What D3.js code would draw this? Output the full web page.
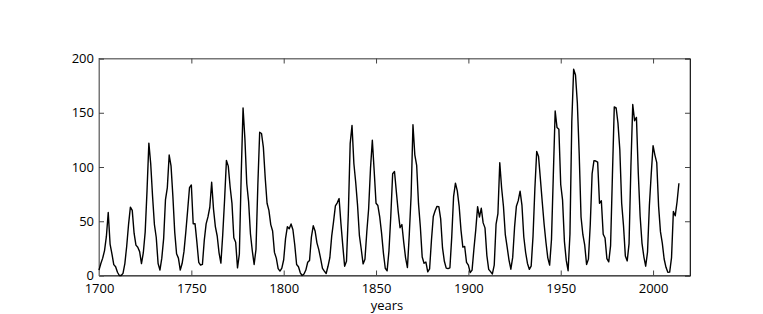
<!DOCTYPE html>
<html>
<head>
<meta charset="utf-8">
<script src="https://cdn.jsdelivr.net/npm/d3@7"></script>
<style>
  body { margin: 0; background: #fff; }
  text { font-family: "Open Sans", sans-serif; }
</style>
</head>
<body>
<div id="chart"></div>
<script>
// yearly mean sunspot numbers
var startYear = 1700;
var sunspots = [
  5, 11, 16, 23, 36, 58, 29, 20, 10, 8,
  3, 0, 0, 2, 11, 27, 47, 63, 60, 39,
  28, 26, 22, 11, 21, 40, 78, 122, 103, 73,
  47, 35, 11, 5, 16, 34, 70, 81, 111, 101,
  73, 40, 20, 16, 5, 11, 22, 40, 60, 80.9,
  83.4, 47.7, 47.8, 30.7, 12.2, 9.6, 10.2, 32.4, 47.6, 54.0,
  62.9, 85.9, 61.2, 45.1, 36.4, 20.9, 11.4, 37.8, 69.8, 106.1,
  100.8, 81.6, 66.5, 34.8, 30.6, 7.0, 19.8, 92.5, 154.4, 125.9,
  84.8, 68.1, 38.5, 22.8, 10.2, 24.1, 82.9, 132.0, 130.9, 118.1,
  89.9, 66.6, 60.0, 46.9, 41.0, 21.3, 16.0, 6.4, 4.1, 6.8,
  14.5, 34.0, 45.0, 43.1, 47.5, 42.2, 28.1, 10.1, 8.1, 2.5,
  0.0, 1.4, 5.0, 12.2, 13.9, 35.4, 45.8, 41.1, 30.1, 23.9,
  15.6, 6.6, 4.0, 1.8, 8.5, 16.6, 36.3, 49.6, 64.2, 67.0,
  70.9, 47.8, 27.5, 8.5, 13.2, 56.9, 121.5, 138.3, 103.2, 85.7,
  64.6, 36.7, 24.2, 10.7, 15.0, 40.1, 61.5, 98.5, 124.7, 96.3,
  66.6, 64.5, 54.1, 39.0, 20.6, 6.7, 4.3, 22.7, 54.8, 93.8,
  95.8, 77.2, 59.1, 44.0, 47.0, 30.5, 16.3, 7.3, 37.6, 74.0,
  139.0, 111.2, 101.6, 66.2, 44.7, 17.0, 11.3, 12.4, 3.4, 6.0,
  32.3, 54.3, 59.7, 63.7, 63.5, 52.2, 25.4, 13.1, 6.8, 6.3,
  7.1, 35.6, 73.0, 85.1, 78.0, 64.0, 41.8, 26.2, 26.7, 12.1,
  9.5, 2.7, 5.0, 24.4, 42.0, 63.5, 53.8, 62.0, 48.5, 43.9,
  18.6, 5.7, 3.6, 1.4, 9.6, 47.4, 57.1, 103.9, 80.6, 63.6,
  37.6, 26.1, 14.2, 5.8, 16.7, 44.3, 63.9, 69.0, 77.8, 64.9,
  35.7, 21.2, 11.1, 5.7, 8.7, 36.1, 79.7, 114.4, 109.6, 88.8,
  67.8, 47.5, 30.6, 16.3, 9.6, 33.2, 92.6, 151.6, 136.3, 134.7,
  83.9, 69.4, 31.5, 13.9, 4.4, 38.0, 141.7, 190.2, 184.8, 159.0,
  112.3, 53.9, 37.6, 27.9, 10.2, 15.1, 47.0, 93.8, 105.9, 105.5,
  104.5, 66.6, 68.9, 38.0, 34.5, 15.5, 12.6, 27.5, 92.5, 155.4,
  154.6, 140.4, 115.9, 66.6, 45.9, 17.9, 13.4, 29.4, 100.2, 157.6,
  142.6, 145.7, 94.3, 54.6, 29.9, 17.5, 8.6, 21.5, 64.3, 93.3,
  119.6, 111.0, 104.0, 63.7, 40.4, 29.8, 15.2, 7.5, 2.9, 3.1,
  16.5, 59, 55, 68, 85
];
var xTicks = [1700, 1750, 1800, 1850, 1900, 1950, 2000];
var yTicks = [0, 50, 100, 150, 200];
var xLabel = "years";

var data = sunspots.map(function (v, i) { return {year: startYear + i, value: v}; });

var W = 763, H = 314;
var margin = {top: 58.5, right: 73, bottom: 38.5, left: 99},
    width = W - margin.left - margin.right,
    height = H - margin.top - margin.bottom;

var svg = d3.select("#chart")
  .append("svg")
    .attr("width", W)
    .attr("height", H)
  .append("g")
    .attr("transform", "translate(" + margin.left + "," + margin.top + ")");

var x = d3.scaleLinear().domain([1700, 2020]).range([0, width]);
var y = d3.scaleLinear().domain([0, 200]).range([height, 0]);

// box
svg.append("rect")
  .attr("width", width).attr("height", height)
  .attr("fill", "none").attr("stroke", "#777").attr("stroke-width", 1);

// bottom axis
svg.append("g")
  .attr("transform", "translate(0," + height + ")")
  .call(d3.axisBottom(x).tickValues(xTicks).tickFormat(d3.format("d")).tickSize(-5).tickPadding(8))
  .call(function (g) { g.select(".domain").attr("stroke", "#222"); });

// top ticks
svg.append("g")
  .call(d3.axisTop(x).tickValues(xTicks).tickSize(-5).tickFormat(""))
  .call(function (g) { g.select(".domain").attr("stroke", "#777"); });

// left axis
svg.append("g")
  .call(d3.axisLeft(y).tickValues(yTicks).tickSize(-5).tickPadding(5))
  .call(function (g) { g.select(".domain").attr("stroke", "#777"); });

// right ticks
svg.append("g")
  .attr("transform", "translate(" + width + ",0)")
  .call(d3.axisRight(y).tickValues(yTicks).tickSize(-5).tickFormat(""))
  .call(function (g) { g.select(".domain").attr("stroke", "#222"); });

svg.selectAll(".tick line").attr("stroke", "#444");
svg.selectAll(".tick text").attr("font-size", 13).attr("fill", "#000")
  .style("font-family", "'Open Sans', sans-serif");

// the series
svg.append("path")
  .datum(data)
  .attr("fill", "none")
  .attr("stroke", "#000")
  .attr("stroke-width", 1.4)
  .attr("stroke-linejoin", "round")
  .attr("d", d3.line()
    .x(function (d) { return x(d.year); })
    .y(function (d) { return y(d.value); }));

svg.append("text")
  .attr("x", x(1850) + 11)
  .attr("y", height + 34)
  .attr("text-anchor", "middle")
  .attr("font-size", 13)
  .text(xLabel);
</script>
</body>
</html>
